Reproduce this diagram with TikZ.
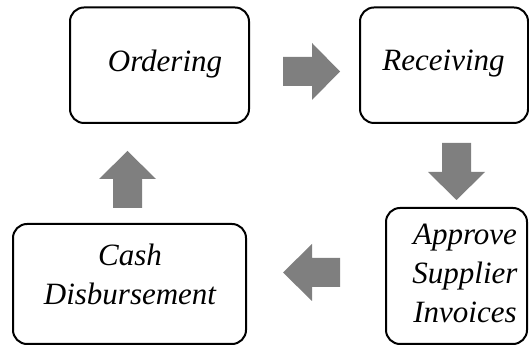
\documentclass[tikz,border=0pt]{standalone}
\usepackage{fontspec}
\setmainfont{Liberation Serif}
\definecolor{arrowgray}{HTML}{7F7F7F}
\begin{document}
\begin{tikzpicture}[x=1pt,y=1pt,
  procbox/.style={draw=black,line width=2pt,rounded corners=14pt,rectangle,inner sep=0pt},
  boxtext/.style={font=\fontsize{31}{39}\selectfont\itshape,align=center,inner sep=0pt,anchor=base},
  blockarrow/.style={fill=arrowgray,draw=none}]
\useasboundingbox (0,0) rectangle (529,347);
% boxes
\node[procbox,minimum width=179pt,minimum height=115.5pt] (ordering) at (159.5,281.75) {};
\node[procbox,minimum width=168pt,minimum height=115.5pt] (receiving) at (444,281.75) {};
\node[procbox,minimum width=141pt,minimum height=136pt] (approve) at (456.5,71) {};
\node[procbox,minimum width=233pt,minimum height=120pt] (cash) at (129.5,63) {};
% texts
\node[boxtext] (tordering) at (165,275) {Ordering};
\node[boxtext] (treceiving) at (443.5,276) {Receiving};
\node[boxtext] (tapprove) at (465,24) {Approve\\Supplier\\Invoices};
\node[boxtext] (tcash) at (130,42) {Cash\\Disbursement};
% block arrows
\fill[blockarrow] (283,261) -- (312,261) -- (312,247) -- (340,275.5) -- (312,304) -- (312,290) -- (283,290) -- cycle;
\fill[blockarrow] (442,204) -- (442,175) -- (428,175) -- (456.5,147) -- (485,175) -- (471,175) -- (471,204) -- cycle;
\fill[blockarrow] (340,60) -- (312,60) -- (312,46) -- (283,74.5) -- (312,103) -- (312,89) -- (340,89) -- cycle;
\fill[blockarrow] (113,139) -- (113,168) -- (99,168) -- (127.5,196) -- (156,168) -- (142,168) -- (142,139) -- cycle;
\end{tikzpicture}
\end{document}
